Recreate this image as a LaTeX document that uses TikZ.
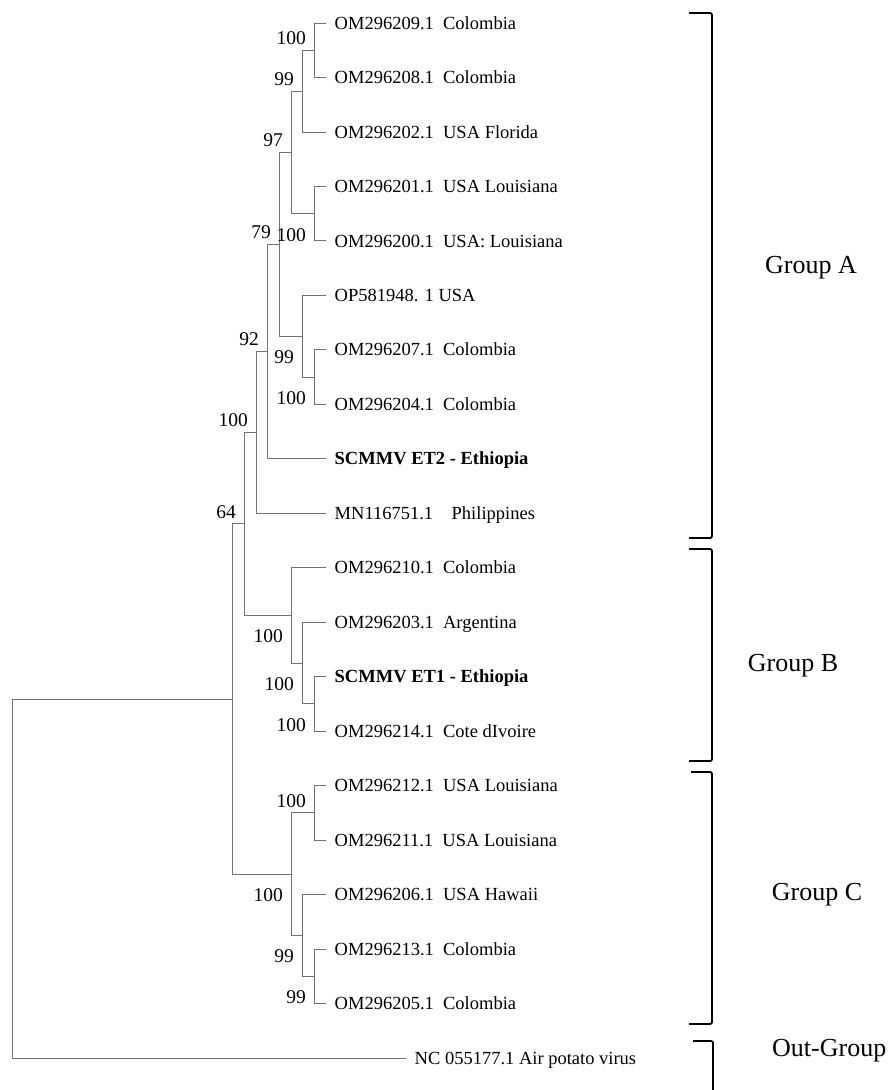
\documentclass[tikz,border=0pt]{standalone}
\usepackage{fontspec}
\setmainfont{Liberation Serif}
\usetikzlibrary{positioning,calc}

\begin{document}
\begin{tikzpicture}[x=1pt, y=-1pt,
    branch/.style={draw=black!55, line width=0.9pt},
    leaf/.style={anchor=west, inner xsep=8.5pt, inner ysep=0pt, text height=12.2pt, text depth=0pt, font=\fontsize{18.5}{21}\selectfont},
    boot/.style={anchor=east, inner sep=0pt, font=\fontsize{19.5}{22}\selectfont},
    grp/.style={inner sep=0pt, font=\fontsize{26}{30}\selectfont},
    clade/.style={draw=black, line width=1.8pt, rounded corners=2pt}]
  \useasboundingbox (0,0) rectangle (891,1090);
  % ---------------- leaves ----------------
  \node[leaf] (L1)  at (326,23.0)   {OM296209.1\ \ Colombia};
  \node[leaf] (L2)  at (326,77.5)   {OM296208.1\ \ Colombia};
  \node[leaf] (L3)  at (326,132.0)  {OM296202.1\ \ USA Florida};
  \node[leaf] (L4)  at (326,186.4)  {OM296201.1\ \ USA Louisiana};
  \node[leaf] (L5)  at (326,240.9)  {OM296200.1\ \ USA: Louisiana};
  \node[leaf] (L6)  at (326,295.4)  {OP581948. 1 USA};
  \node[leaf] (L7)  at (326,349.8)  {OM296207.1\ \ Colombia};
  \node[leaf] (L8)  at (326,404.3)  {OM296204.1\ \ Colombia};
  \node[leaf] (L9)  at (326,458.8)  {\textbf{SCMMV ET2 - Ethiopia}};
  \node[leaf] (L10) at (326,513.2)  {MN116751.1\ \ \ \ Philippines};
  \node[leaf] (L11) at (326,567.7)  {OM296210.1\ \ Colombia};
  \node[leaf] (L12) at (326,622.2)  {OM296203.1\ \ Argentina};
  \node[leaf] (L13) at (326,676.6)  {\textbf{SCMMV ET1 - Ethiopia}};
  \node[leaf] (L14) at (326,731.1)  {OM296214.1\ \ Cote dIvoire};
  \node[leaf] (L15) at (326,785.6)  {OM296212.1\ \ USA Louisiana};
  \node[leaf] (L16) at (326,840.0)  {OM296211.1\ \ USA Louisiana};
  \node[leaf] (L17) at (326,894.5)  {OM296206.1\ \ USA Hawaii};
  \node[leaf] (L18) at (326,949.0)  {OM296213.1\ \ Colombia};
  \node[leaf] (L19) at (326,1003.5) {OM296205.1\ \ Colombia};
  \node[leaf] (L20) at (406,1058.0) {NC 055177.1 Air potato virus};
  % ---------------- internal nodes ----------------
  \coordinate (a1) at (314,50.2);
  \coordinate (a2) at (302,91.1);
  \coordinate (a3) at (314,213.7);
  \coordinate (a4) at (291,152.4);
  \coordinate (a5) at (314,377.0);
  \coordinate (a6) at (302,336.2);
  \coordinate (a7) at (279,244.3);
  \coordinate (a8) at (267,351.5);
  \coordinate (a9) at (256,432.4);
  \coordinate (b1) at (314,703.9);
  \coordinate (b2) at (302,663.0);
  \coordinate (b3) at (291,615.4);
  \coordinate (c1) at (314,812.8);
  \coordinate (c2) at (314,976.2);
  \coordinate (c3) at (302,935.4);
  \coordinate (c4) at (291,874.1);
  \coordinate (m1) at (244,523.9);
  \coordinate (m2) at (232,699.0);
  \coordinate (root) at (12,878.5);
  % ---------------- branches ----------------
  \foreach \p/\c in {a1/L1.west, a1/L2.west, a2/a1, a2/L3.west, a3/L4.west, a3/L5.west,
      a4/a2, a4/a3, a5/L7.west, a5/L8.west, a6/L6.west, a6/a5, a7/a4, a7/a6,
      a8/a7, a8/L9.west, a9/a8, a9/L10.west,
      b1/L13.west, b1/L14.west, b2/L12.west, b2/b1, b3/L11.west, b3/b2,
      c1/L15.west, c1/L16.west, c2/L18.west, c2/L19.west, c3/L17.west, c3/c2, c4/c1, c4/c3,
      m1/a9, m1/b3, m2/m1, m2/c4, root/m2, root/L20.west}
    \draw[branch] (\p) |- (\c);
  % ---------------- bootstrap values ----------------
  \node[boot] (s1)  at ($(a1)+(-8,-12)$) {100};
  \node[boot] (s2)  at ($(a2)+(-8,-12)$) {99};
  \node[boot] (s3)  at ($(a4)+(-8,-12)$) {97};
  \node[boot] (s4)  at ($(a3)+(-8,21)$)  {100};
  \node[boot] (s5)  at ($(a7)+(-8,-12)$) {79};
  \node[boot] (s6)  at ($(a8)+(-8,-12)$) {92};
  \node[boot] (s7)  at ($(a6)+(-8,21)$)  {99};
  \node[boot] (s8)  at ($(a5)+(-8,21)$)  {100};
  \node[boot] (s9)  at ($(a9)+(-8,-12)$) {100};
  \node[boot] (s10) at ($(m1)+(-8,-12)$) {64};
  \node[boot] (s11) at ($(b3)+(-8,21)$)  {100};
  \node[boot] (s12) at ($(b2)+(-8,21)$)  {100};
  \node[boot] (s13) at ($(b1)+(-8,21)$)  {100};
  \node[boot] (s14) at ($(c1)+(-8,-12)$) {100};
  \node[boot] (s15) at ($(c4)+(-8,21)$)  {100};
  \node[boot] (s16) at ($(c3)+(-8,21)$)  {99};
  \node[boot] (s17) at ($(c2)+(-8,21)$)  {99};
  % ---------------- groups ----------------
  \draw[clade] (689,13) -- (712,13) -- (712,538) -- (689,538);
  \draw[clade] (689,549) -- (712,549) -- (712,761) -- (689,761);
  \draw[clade] (691,772) -- (712,772) -- (712,1024) -- (689,1024);
  \draw[clade] (693,1041) -- (713,1041) -- (713,1095);
  \node[grp] (gA) at (811,268) {Group A};
  \node[grp] (gB) at (793,666) {Group B};
  \node[grp] (gC) at (817,895) {Group C};
  \node[grp, anchor=west] (gO) at (772,1051) {Out-Group};
\end{tikzpicture}
\end{document}
